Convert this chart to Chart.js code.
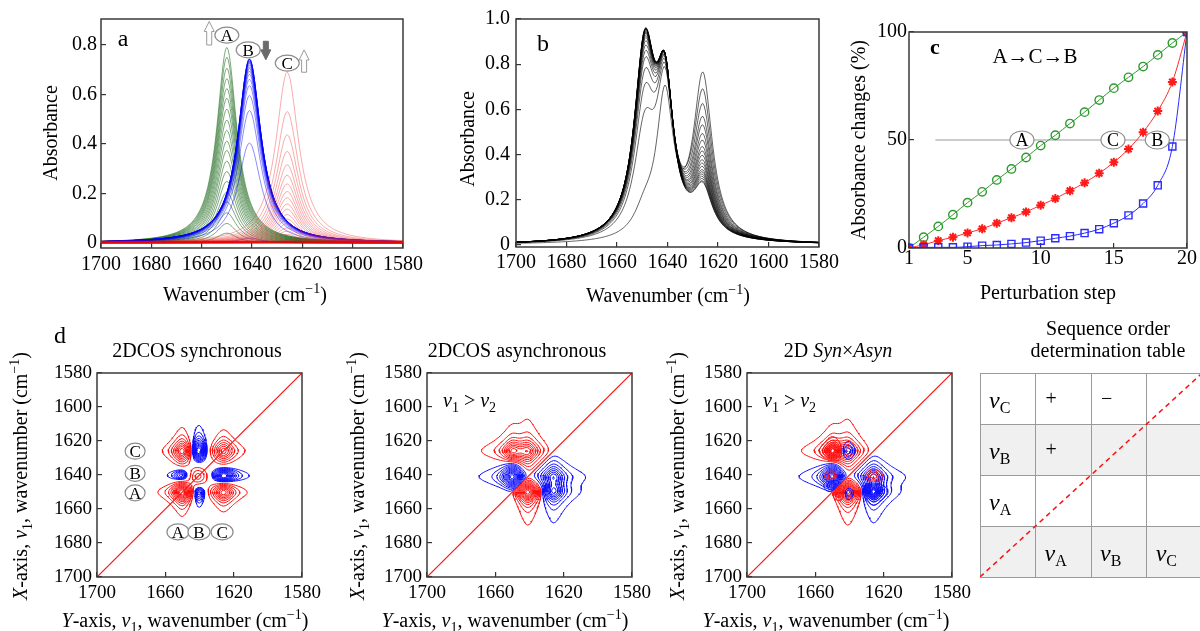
<!DOCTYPE html>
<html>
<head>
<meta charset="utf-8">
<script src="https://cdn.jsdelivr.net/npm/chart.js@4.4.1/dist/chart.umd.min.js"></script>
<style>
  html, body { margin: 0; padding: 0; background: #fff; }
  #page { position: relative; width: 1200px; height: 631px; overflow: hidden; background: #fff; }
  canvas { position: absolute; }
</style>
</head>
<body>
<div id="page">
  <canvas id="chartA"></canvas>
  <canvas id="chartB"></canvas>
  <canvas id="chartC"></canvas>
  <canvas id="chartSync"></canvas>
  <canvas id="chartAsync"></canvas>
  <canvas id="chartProd"></canvas>
  <canvas id="chartTable"></canvas>
</div>
<script>
// ---------------- data ----------------

// perturbation steps
const steps = [1, 2, 3, 4, 5, 6, 7, 8, 9, 10, 11, 12, 13, 14, 15, 16, 17, 18, 19, 20];

// panel a: three bands (A, B, C), position / half width in cm-1, peak height per step
const bandCenters = [1650, 1641, 1626];
const bandHalfWidths = [4.8, 5.5, 5.5];
const heightsA = [0, 0.040, 0.079, 0.122, 0.166, 0.205, 0.249, 0.289, 0.331, 0.374, 0.412, 0.455, 0.497, 0.541, 0.585, 0.624, 0.664, 0.706, 0.750, 0.790];
const heightsB = [0.745, 0.743, 0.743, 0.743, 0.741, 0.737, 0.735, 0.731, 0.727, 0.720, 0.712, 0.705, 0.695, 0.682, 0.662, 0.636, 0.596, 0.535, 0.404, 0.020];
const heightsC = [0, 0.010, 0.023, 0.035, 0.048, 0.061, 0.079, 0.097, 0.115, 0.137, 0.158, 0.183, 0.208, 0.239, 0.274, 0.316, 0.370, 0.437, 0.531, 0.690];

// panel b: summed spectra, band positions / half widths and heights per step
const bCenters = [1649, 1641, 1626];
const bHalfWidths = [5, 4, 4.5];
const bHeightsA = [0.10, 0.45, 0.57, 0.64, 0.69, 0.72, 0.745, 0.765, 0.78, 0.79, 0.80, 0.805, 0.81, 0.815, 0.82, 0.822, 0.824, 0.826, 0.828, 0.83];
const bHeightsB = [0.62, 0.61, 0.60, 0.60, 0.60, 0.60, 0.60, 0.60, 0.60, 0.60, 0.60, 0.60, 0.60, 0.60, 0.60, 0.60, 0.60, 0.60, 0.60, 0.60];
const bHeightsC = [0.72, 0.63, 0.56, 0.50, 0.46, 0.42, 0.39, 0.36, 0.34, 0.32, 0.30, 0.285, 0.27, 0.255, 0.245, 0.235, 0.225, 0.215, 0.205, 0.20];

// panel c: absorbance changes (%)
const pctA = [0, 5, 10, 15.4, 21, 26, 31.5, 36.6, 41.9, 47.4, 52.2, 57.6, 62.9, 68.5, 74, 79, 84, 89.4, 94.9, 100];
const pctC = [0, 1.5, 3.4, 5, 7, 8.9, 11.5, 14, 16.7, 19.8, 22.9, 26.5, 30.2, 34.6, 39.7, 45.8, 53.6, 63.4, 76.9, 100];
const pctB = [0, 0.3, 0.3, 0.3, 0.6, 1.1, 1.4, 1.9, 2.5, 3.4, 4.5, 5.5, 6.9, 8.7, 11.5, 15.1, 20.6, 29, 47, 100];

// tick labels
const ticksA = [0, 0.2, 0.4, 0.6, 0.8];
const ticksB = [0, 0.2, 0.4, 0.6, 0.8, 1.0];
const ticksWn = [1700, 1680, 1660, 1640, 1620, 1600, 1580];
const ticksStep = [1, 5, 10, 15, 20];
const ticksPct = [0, 50, 100];
const ticks2dX = [1700, 1660, 1620, 1580];
const ticks2dY = [1580, 1600, 1620, 1640, 1660, 1680, 1700];

// contour levels, fraction of the largest peak of the same sign
const syncLevels = [0.1, 0.18, 0.26, 0.34, 0.42, 0.5, 0.58, 0.66, 0.74, 0.82, 0.9];
const asyncLevels = [0.06, 0.14, 0.22, 0.3, 0.38, 0.46, 0.54, 0.62, 0.7, 0.78, 0.86, 0.94];
const prodLevels = [0.08, 0.18, 0.28, 0.38, 0.48, 0.58, 0.68, 0.78, 0.88];

// sequence order table
const tableRowBands = ['C', 'B', 'A'];
const tableSigns = [['+', '\u2212', ''], ['+', '', ''], ['', '', '']];
const tableColBands = ['A', 'B', 'C'];

// ---------------- helpers ----------------
const FONT = '"Liberation Serif", "Times New Roman", Times, serif';
Chart.defaults.font.family = FONT;
Chart.defaults.color = '#000';

function lorentz(nu, center, hw) {
    const u = (nu - center) / hw;
    return 1 / (1 + u * u);
}

// "*x*" italic, "_x_" subscript, "^x^" superscript
function parseRich(str) {
    const parts = [];
    let cur = '', style = '';
    for (const ch of str) {
        if (ch === '*' || ch === '_' || ch === '^') {
            if (cur) parts.push({ t: cur, s: style });
            cur = '';
            style = style === ch ? '' : ch;
        } else {
            cur += ch;
        }
    }
    if (cur) parts.push({ t: cur, s: style });
    return parts;
}

function drawRich(ctx, str, x, y, size, o = {}) {
    const parts = parseRich(str);
    const small = Math.round(size * 0.68);
    const fontOf = p => (p.s === '*' ? 'italic ' : '') + (o.bold ? 'bold ' : '') +
        ((p.s === '_' || p.s === '^') ? small : size) + 'px ' + FONT;
    ctx.save();
    ctx.translate(x, y);
    if (o.rotate) ctx.rotate(o.rotate);
    let w = 0;
    parts.forEach(p => { ctx.font = fontOf(p); p.w = ctx.measureText(p.t).width; w += p.w; });
    let cx = o.align === 'left' ? 0 : (o.align === 'right' ? -w : -w / 2);
    ctx.fillStyle = o.color || '#000';
    ctx.textAlign = 'left';
    ctx.textBaseline = 'alphabetic';
    parts.forEach(p => {
        ctx.font = fontOf(p);
        const dy = p.s === '_' ? size * 0.24 : (p.s === '^' ? -size * 0.38 : 0);
        ctx.fillText(p.t, cx, size * 0.34 + dy);
        cx += p.w;
    });
    ctx.restore();
}

function ellipseLabel(ctx, text, x, y, rx, ry, size) {
    ctx.save();
    ctx.beginPath();
    ctx.ellipse(x, y, rx, ry, 0, 0, Math.PI * 2);
    ctx.fillStyle = '#fff';
    ctx.fill();
    ctx.strokeStyle = '#8c8c8c';
    ctx.lineWidth = 1.2;
    ctx.stroke();
    ctx.restore();
    drawRich(ctx, text, x, y, size);
}

function placeCanvas(id, box) {
    const c = document.getElementById(id);
    c.width = box.width;
    c.height = box.height;
    c.style.left = box.left + 'px';
    c.style.top = box.top + 'px';
    return c;
}

function axis(o) {
    return {
        type: 'linear',
        min: o.min,
        max: o.max,
        reverse: !!o.reverse,
        afterBuildTicks: s => { s.ticks = o.ticks.map(v => ({ value: v })); },
        afterFit: s => {
            if (o.horizontal) s.height = o.fixed; else s.width = o.fixed;
            s.paddingLeft = 0; s.paddingRight = 0; s.paddingTop = 0; s.paddingBottom = 0;
        },
        grid: {
            drawOnChartArea: !!o.gridOn,
            drawTicks: !o.noTicks,
            tickLength: -5,
            color: o.gridColor || '#333',
            lineWidth: o.gridOn ? 1 : 1.2
        },
        border: { display: false },
        ticks: {
            display: !o.noLabels,
            font: { size: o.size || 20, family: FONT },
            color: '#000',
            padding: o.pad || 8,
            maxRotation: 0,
            autoSkip: false,
            callback: o.fmt || (v => String(v))
        }
    };
}

// decorations drawn in page coordinates on top of a chart
function decorations(box, area, drawFn, before) {
    return {
        id: 'deco',
        beforeDraw(chart) {
            if (!before) return;
            const ctx = chart.ctx;
            ctx.save();
            ctx.translate(-box.left, -box.top);
            before(chart, ctx);
            ctx.restore();
        },
        afterDraw(chart) {
            const ctx = chart.ctx;
            ctx.save();
            ctx.translate(-box.left, -box.top);
            if (area.frame !== false) {
                const a = chart.chartArea;
                ctx.strokeStyle = '#3a3a3a';
                ctx.lineWidth = 1.5;
                ctx.strokeRect(a.left + box.left, a.top + box.top, a.right - a.left, a.bottom - a.top);
            }
            drawFn(chart, ctx);
            ctx.restore();
        }
    };
}

// page pixel of a data point
function pagePt(chart, box, x, y) {
    return [chart.scales.x.getPixelForValue(x) + box.left, chart.scales.y.getPixelForValue(y) + box.top];
}

function makeChart(id, box, area, datasets, scales, deco, before) {
    const canvas = placeCanvas(id, box);
    return new Chart(canvas.getContext('2d'), {
        type: 'scatter',
        data: { datasets: datasets },
        options: {
            responsive: false,
            animation: false,
            events: [],
            layout: { padding: { left: 0, top: area.t - box.top, right: box.left + box.width - area.r, bottom: 0 } },
            plugins: { legend: { display: false }, tooltip: { enabled: false } },
            elements: { point: { radius: 0 }, line: { tension: 0 } },
            scales: scales
        },
        plugins: [decorations(box, area, deco, before)]
    });
}

function lineSet(data, color, width, extra) {
    return Object.assign({ data: data, showLine: true, borderColor: color, backgroundColor: color, borderWidth: width, pointRadius: 0 }, extra || {});
}

// sampling grid for drawing spectra
const plotGrid = [];
for (let nu = 1580; nu <= 1700.001; nu += 0.5) plotGrid.push(nu);

// ---------------- panel a ----------------
const heightsByBand = [heightsA, heightsB, heightsC];
const bandColors = ['rgba(20,100,20,0.62)', 'rgba(0,0,255,0.5)', 'rgba(240,50,50,0.45)'];
const aSets = [];
[2, 1, 0].forEach(k => {
    heightsByBand[k].forEach(h => {
        aSets.push(lineSet(plotGrid.map(nu => ({ x: nu, y: h * lorentz(nu, bandCenters[k], bandHalfWidths[k]) })), bandColors[k], 0.9));
    });
});

const boxA = { left: 0, top: 0, width: 440, height: 310 };
const areaA = { l: 101, t: 19, r: 403, b: 248 };
makeChart('chartA', boxA, areaA, aSets, {
    x: axis({ horizontal: true, min: 1580, max: 1700, reverse: true, ticks: ticksWn, fixed: boxA.height - areaA.b, pad: 10 }),
    y: axis({ min: -0.02, max: 0.905, ticks: ticksA, fixed: areaA.l - boxA.left, pad: 9, fmt: v => (v === 0 ? '0' : v.toFixed(1)) })
}, (chart, ctx) => {
    drawRich(ctx, 'a', 123, 38, 24);
    drawRich(ctx, 'Absorbance', 50, 133, 20, { rotate: -Math.PI / 2 });
    drawRich(ctx, 'Wavenumber (cm^\u22121^)', 245, 294, 20);
    // band labels and arrows
    const labs = [['A', 1650, 0.84], ['B', 1641.5, 0.78], ['C', 1626, 0.727]];
    labs.forEach(l => { const p = pagePt(chart, boxA, l[1], l[2]); ellipseLabel(ctx, l[0], p[0], p[1], 12, 8, 17); });
    const arrows = [[1657, 0.80, 0.895, false], [1634.5, 0.815, 0.74, true], [1619.3, 0.69, 0.78, false]];
    arrows.forEach(a => {
        const p1 = pagePt(chart, boxA, a[0], a[1]);
        const p2 = pagePt(chart, boxA, a[0], a[2]);
        const x = p1[0], y1 = p1[1], y2 = p2[1];
        const dir = y2 < y1 ? -1 : 1;
        const head = 10 * dir;
        ctx.beginPath();
        ctx.moveTo(x - 2.5, y1);
        ctx.lineTo(x - 2.5, y2 - head);
        ctx.lineTo(x - 5, y2 - head);
        ctx.lineTo(x, y2);
        ctx.lineTo(x + 5, y2 - head);
        ctx.lineTo(x + 2.5, y2 - head);
        ctx.lineTo(x + 2.5, y1);
        ctx.closePath();
        ctx.fillStyle = a[3] ? '#6a6a6a' : '#fff';
        ctx.fill();
        ctx.strokeStyle = a[3] ? '#6a6a6a' : '#9a9a9a';
        ctx.lineWidth = 1;
        ctx.stroke();
    });
    // overlapping baselines
    const base = [pagePt(chart, boxA, 1700, 0.004), pagePt(chart, boxA, 1580, 0.004)];
    ctx.strokeStyle = 'rgba(230,0,0,0.85)';
    ctx.lineWidth = 2.5;
    ctx.beginPath();
    ctx.moveTo(base[0][0], base[0][1]);
    ctx.lineTo(base[1][0], base[1][1]);
    ctx.stroke();
});

// ---------------- panel b ----------------
const bSets = steps.map((s, j) => lineSet(plotGrid.map(nu => ({
    x: nu,
    y: bHeightsA[j] * lorentz(nu, bCenters[0], bHalfWidths[0]) +
       bHeightsB[j] * lorentz(nu, bCenters[1], bHalfWidths[1]) +
       bHeightsC[j] * lorentz(nu, bCenters[2], bHalfWidths[2])
})), 'rgba(0,0,0,0.72)', 0.85));

const boxB = { left: 430, top: 0, width: 420, height: 310 };
const areaB = { l: 516, t: 19, r: 819, b: 247 };
makeChart('chartB', boxB, areaB, bSets, {
    x: axis({ horizontal: true, min: 1580, max: 1700, reverse: true, ticks: ticksWn, fixed: boxB.height - areaB.b, pad: 9 }),
    y: axis({ min: -0.01, max: 1.0, ticks: ticksB, fixed: areaB.l - boxB.left, pad: 11, fmt: v => (v === 0 ? '0' : v.toFixed(1)) })
}, (chart, ctx) => {
    drawRich(ctx, 'b', 543, 43, 24);
    drawRich(ctx, 'Absorbance', 467, 139, 20, { rotate: -Math.PI / 2 });
    drawRich(ctx, 'Wavenumber (cm^\u22121^)', 668, 295, 20);
});

// ---------------- panel c ----------------
const cSets = [
    lineSet(steps.map((s, i) => ({ x: s, y: pctB[i] })), '#2a2aff', 1, {
        pointStyle: 'rect', pointRadius: 5, pointBorderColor: '#2a2aff', pointBackgroundColor: 'rgba(0,0,0,0)', pointBorderWidth: 1.4, cubicInterpolationMode: 'monotone'
    }),
    lineSet(steps.map((s, i) => ({ x: s, y: pctC[i] })), '#ff2a2a', 1, {
        pointStyle: 'star', pointRadius: 4.5, pointBorderColor: '#ff1a1a', pointBackgroundColor: '#ff1a1a', pointBorderWidth: 2, cubicInterpolationMode: 'monotone'
    }),
    lineSet(steps.map((s, i) => ({ x: s, y: pctA[i] })), '#2f9a2f', 1, {
        pointStyle: 'circle', pointRadius: 4.2, pointBorderColor: '#2f9a2f', pointBackgroundColor: 'rgba(0,0,0,0)', pointBorderWidth: 1.4, cubicInterpolationMode: 'monotone'
    }),
    lineSet([{ x: 2.8, y: 50 }, { x: 20, y: 50 }], '#9a9a9a', 1.2)
];

const boxC = { left: 830, top: 0, width: 370, height: 310 };
const areaC = { l: 909, t: 32, r: 1187, b: 248 };
makeChart('chartC', boxC, areaC, cSets, {
    x: axis({ horizontal: true, min: 1, max: 20, ticks: ticksStep, fixed: boxC.height - areaC.b, pad: 4 }),
    y: axis({ min: 0, max: 100, ticks: ticksPct, fixed: areaC.l - boxC.left, pad: 7 })
}, (chart, ctx) => {
    drawRich(ctx, 'c', 935, 47, 22, { bold: true });
    drawRich(ctx, 'Absorbance changes (%)', 858, 140, 20, { rotate: -Math.PI / 2 });
    drawRich(ctx, 'Perturbation step', 1048, 292, 20);
    drawRich(ctx, 'A\u2192C\u2192B', 1035, 56, 21);
    [['A', 8.72], ['C', 14.94], ['B', 17.97]].forEach(l => {
        const p = pagePt(chart, boxC, l[1], 50);
        ellipseLabel(ctx, l[0], p[0], p[1], 12, 9, 18);
    });
});

// ---------------- 2D correlation maps computed from the panel a bands ----------------
const cosGrid = [];
for (let nu = 1580; nu <= 1700; nu += 1) cosGrid.push(nu);
const nG = cosGrid.length;
const m = steps.length;
const spectra = steps.map((s, j) => cosGrid.map(nu =>
    bandCenters.reduce((sum, c, k) => sum + heightsByBand[k][j] * lorentz(nu, c, bandHalfWidths[k]), 0)));
const meanSpec = cosGrid.map((_, i) => spectra.reduce((s, sp) => s + sp[i], 0) / m);
const dyn = spectra.map(sp => sp.map((v, i) => v - meanSpec[i]));
const hilbert = dyn.map((_, j) => cosGrid.map((_, i) => {
    let s = 0;
    for (let k = 0; k < m; k++) if (k !== j) s += dyn[k][i] / (Math.PI * (k - j));
    return s;
}));

const syncMap = [], asyncMap = [], prodMap = [];
for (let i = 0; i < nG; i++) {
    const rs = new Float64Array(nG), ra = new Float64Array(nG), rp = new Float64Array(nG);
    for (let j = 0; j < nG; j++) {
        let s = 0, a = 0;
        for (let k = 0; k < m; k++) {
            s += dyn[k][i] * dyn[k][j];
            a += dyn[k][i] * hilbert[k][j];
        }
        rs[j] = s / (m - 1);
        ra[j] = a / (m - 1);
        rp[j] = rs[j] * ra[j];
    }
    syncMap.push(rs); asyncMap.push(ra); prodMap.push(rp);
}

const msCases = { 1: [[3, 0]], 2: [[0, 1]], 3: [[3, 1]], 4: [[1, 2]], 5: [[3, 0], [1, 2]], 6: [[0, 2]], 7: [[3, 2]],
    8: [[2, 3]], 9: [[0, 2]], 10: [[0, 1], [2, 3]], 11: [[1, 2]], 12: [[1, 3]], 13: [[0, 1]], 14: [[0, 3]] };

// marching squares; x = v1 (first index), y = v2; levels scaled to the largest peak of that sign
function contourPoints(field, sign, fractions) {
    let peak = 0;
    field.forEach(r => r.forEach(v => { if (sign * v > peak) peak = sign * v; }));
    const levels = fractions.map(f => f * peak);
    const low = levels[0];
    const out = [];
    for (let i = 0; i < nG - 1; i++) {
        for (let j = 0; j < nG - 1; j++) {
            const v = [sign * field[i][j], sign * field[i + 1][j], sign * field[i + 1][j + 1], sign * field[i][j + 1]];
            if (v[0] <= low && v[1] <= low && v[2] <= low && v[3] <= low) continue;
            const xs = [cosGrid[i], cosGrid[i + 1], cosGrid[i + 1], cosGrid[i]];
            const ys = [cosGrid[j], cosGrid[j], cosGrid[j + 1], cosGrid[j + 1]];
            levels.forEach(L => {
                const c = (v[0] > L ? 1 : 0) | (v[1] > L ? 2 : 0) | (v[2] > L ? 4 : 0) | (v[3] > L ? 8 : 0);
                const segs = msCases[c];
                if (!segs) return;
                const edgePt = e => {
                    const a = e, b = (e + 1) % 4;
                    const t = (L - v[a]) / (v[b] - v[a]);
                    return { x: xs[a] + t * (xs[b] - xs[a]), y: ys[a] + t * (ys[b] - ys[a]) };
                };
                segs.forEach(sg => { out.push(edgePt(sg[0]), edgePt(sg[1]), { x: null, y: null }); });
            });
        }
    }
    return out;
}

const RED = '#ff1010', BLUE = '#1010ff';
const diagonal = lineSet([{ x: 1700, y: 1700 }, { x: 1580, y: 1580 }], RED, 1.2);

function mapScales(box, area) {
    return {
        x: axis({ horizontal: true, min: 1580, max: 1700, reverse: true, ticks: ticks2dX, fixed: box.top + box.height - area.b, pad: 10, size: 19 }),
        y: axis({ min: 1580, max: 1700, reverse: true, ticks: ticks2dY, fixed: area.l - box.left, pad: 10, size: 19 })
    };
}

function mapTexts(ctx, cx, yTitleX, title) {
    drawRich(ctx, title, cx, 350, 20);
    drawRich(ctx, '*X*-axis, *v*_1_, wavenumber (cm^\u22121^)', yTitleX, 476, 20, { rotate: -Math.PI / 2 });
    drawRich(ctx, '*Y*-axis, *v*_1_, wavenumber (cm^\u22121^)', cx - 12, 620, 20);
}

// synchronous
const boxD = { left: 0, top: 315, width: 330, height: 316 };
const areaD = { l: 97, t: 373, r: 302, b: 577 };
makeChart('chartSync', boxD, areaD, [
    lineSet(contourPoints(syncMap, 1, syncLevels), RED, 1),
    lineSet(contourPoints(syncMap, -1, syncLevels), BLUE, 1),
    diagonal
], mapScales(boxD, areaD), (chart, ctx) => {
    drawRich(ctx, 'd', 60, 335, 24);
    mapTexts(ctx, 197, 20, '2DCOS synchronous');
    [['C', 1626], ['B', 1639], ['A', 1650.5]].forEach(l => {
        const p = pagePt(chart, boxD, 1677.7, l[1]);
        ellipseLabel(ctx, l[0], p[0], p[1], 10, 8, 17);
    });
    [['A', 1652.6], ['B', 1640.3], ['C', 1626.8]].forEach(l => {
        const p = pagePt(chart, boxD, l[1], 1673.5);
        ellipseLabel(ctx, l[0], p[0], p[1], 11, 8, 17);
    });
});

// asynchronous
const boxE = { left: 330, top: 315, width: 330, height: 316 };
const areaE = { l: 427, t: 373, r: 632, b: 577 };
makeChart('chartAsync', boxE, areaE, [
    lineSet(contourPoints(asyncMap, 1, asyncLevels), RED, 1),
    lineSet(contourPoints(asyncMap, -1, asyncLevels), BLUE, 1),
    diagonal
], mapScales(boxE, areaE), (chart, ctx) => {
    mapTexts(ctx, 517, 357, '2DCOS asynchronous');
    drawRich(ctx, '*v*_1_ > *v*_2_', 443, 400, 20, { align: 'left' });
});

// synchronous x asynchronous
const boxF = { left: 650, top: 315, width: 330, height: 316 };
const areaF = { l: 747, t: 373, r: 952, b: 577 };
makeChart('chartProd', boxF, areaF, [
    lineSet(contourPoints(prodMap, 1, prodLevels), RED, 1),
    lineSet(contourPoints(prodMap, -1, prodLevels), BLUE, 1),
    lineSet(contourPoints(asyncMap, 1, asyncLevels), RED, 1),
    lineSet(contourPoints(asyncMap, -1, asyncLevels), BLUE, 1),
    diagonal
], mapScales(boxF, areaF), (chart, ctx) => {
    mapTexts(ctx, 838, 677, '2D *Syn*\u00d7*Asyn*');
    drawRich(ctx, '*v*_1_ > *v*_2_', 763, 400, 20, { align: 'left' });
});

// ---------------- sequence order table ----------------
const boxT = { left: 965, top: 315, width: 235, height: 316 };
const areaT = { l: 980, t: 373, r: 1200, b: 577, frame: false };
const tableScales = {
    x: axis({ horizontal: true, min: 0, max: 3.96, ticks: [0, 1, 2, 3], fixed: boxT.top + boxT.height - areaT.b, noLabels: true, noTicks: true, gridOn: true, gridColor: '#9a9a9a' }),
    y: axis({ min: 0, max: 4, ticks: [0, 1, 2, 3, 4], fixed: areaT.l - boxT.left, noLabels: true, noTicks: true, gridOn: true, gridColor: '#9a9a9a' })
};
makeChart('chartTable', boxT, areaT, [
    lineSet([{ x: 0, y: 0 }, { x: 4, y: 4 }], RED, 1.5, { borderDash: [5, 4] })
], tableScales, (chart, ctx) => {
    drawRich(ctx, 'Sequence order', 1108, 328, 20);
    drawRich(ctx, 'determination table', 1108, 350, 20);
    tableRowBands.forEach((b, r) => {
        const yv = 3.5 - r;
        const p = pagePt(chart, boxT, 0, yv);
        drawRich(ctx, '*v*_' + b + '_', p[0] + 9, p[1] + 1, 24, { align: 'left' });
        tableSigns[r].forEach((s, c) => {
            if (!s) return;
            const q = pagePt(chart, boxT, c + 1, yv);
            drawRich(ctx, s, q[0] + 10, q[1], 20, { align: 'left' });
        });
    });
    tableColBands.forEach((b, c) => {
        const p = pagePt(chart, boxT, c + 1, 0.5);
        drawRich(ctx, '*v*_' + b + '_', p[0] + 9, p[1] + 1, 24, { align: 'left' });
    });
}, (chart, ctx) => {
    const a = chart.chartArea;
    ctx.fillStyle = '#f0f0f0';
    [[0, 1], [2, 3]].forEach(r => {
        const y1 = chart.scales.y.getPixelForValue(r[1]) + boxT.top;
        const y2 = chart.scales.y.getPixelForValue(r[0]) + boxT.top;
        ctx.fillRect(a.left + boxT.left, y1, a.right - a.left, y2 - y1);
    });
});
</script>
</body>
</html>
